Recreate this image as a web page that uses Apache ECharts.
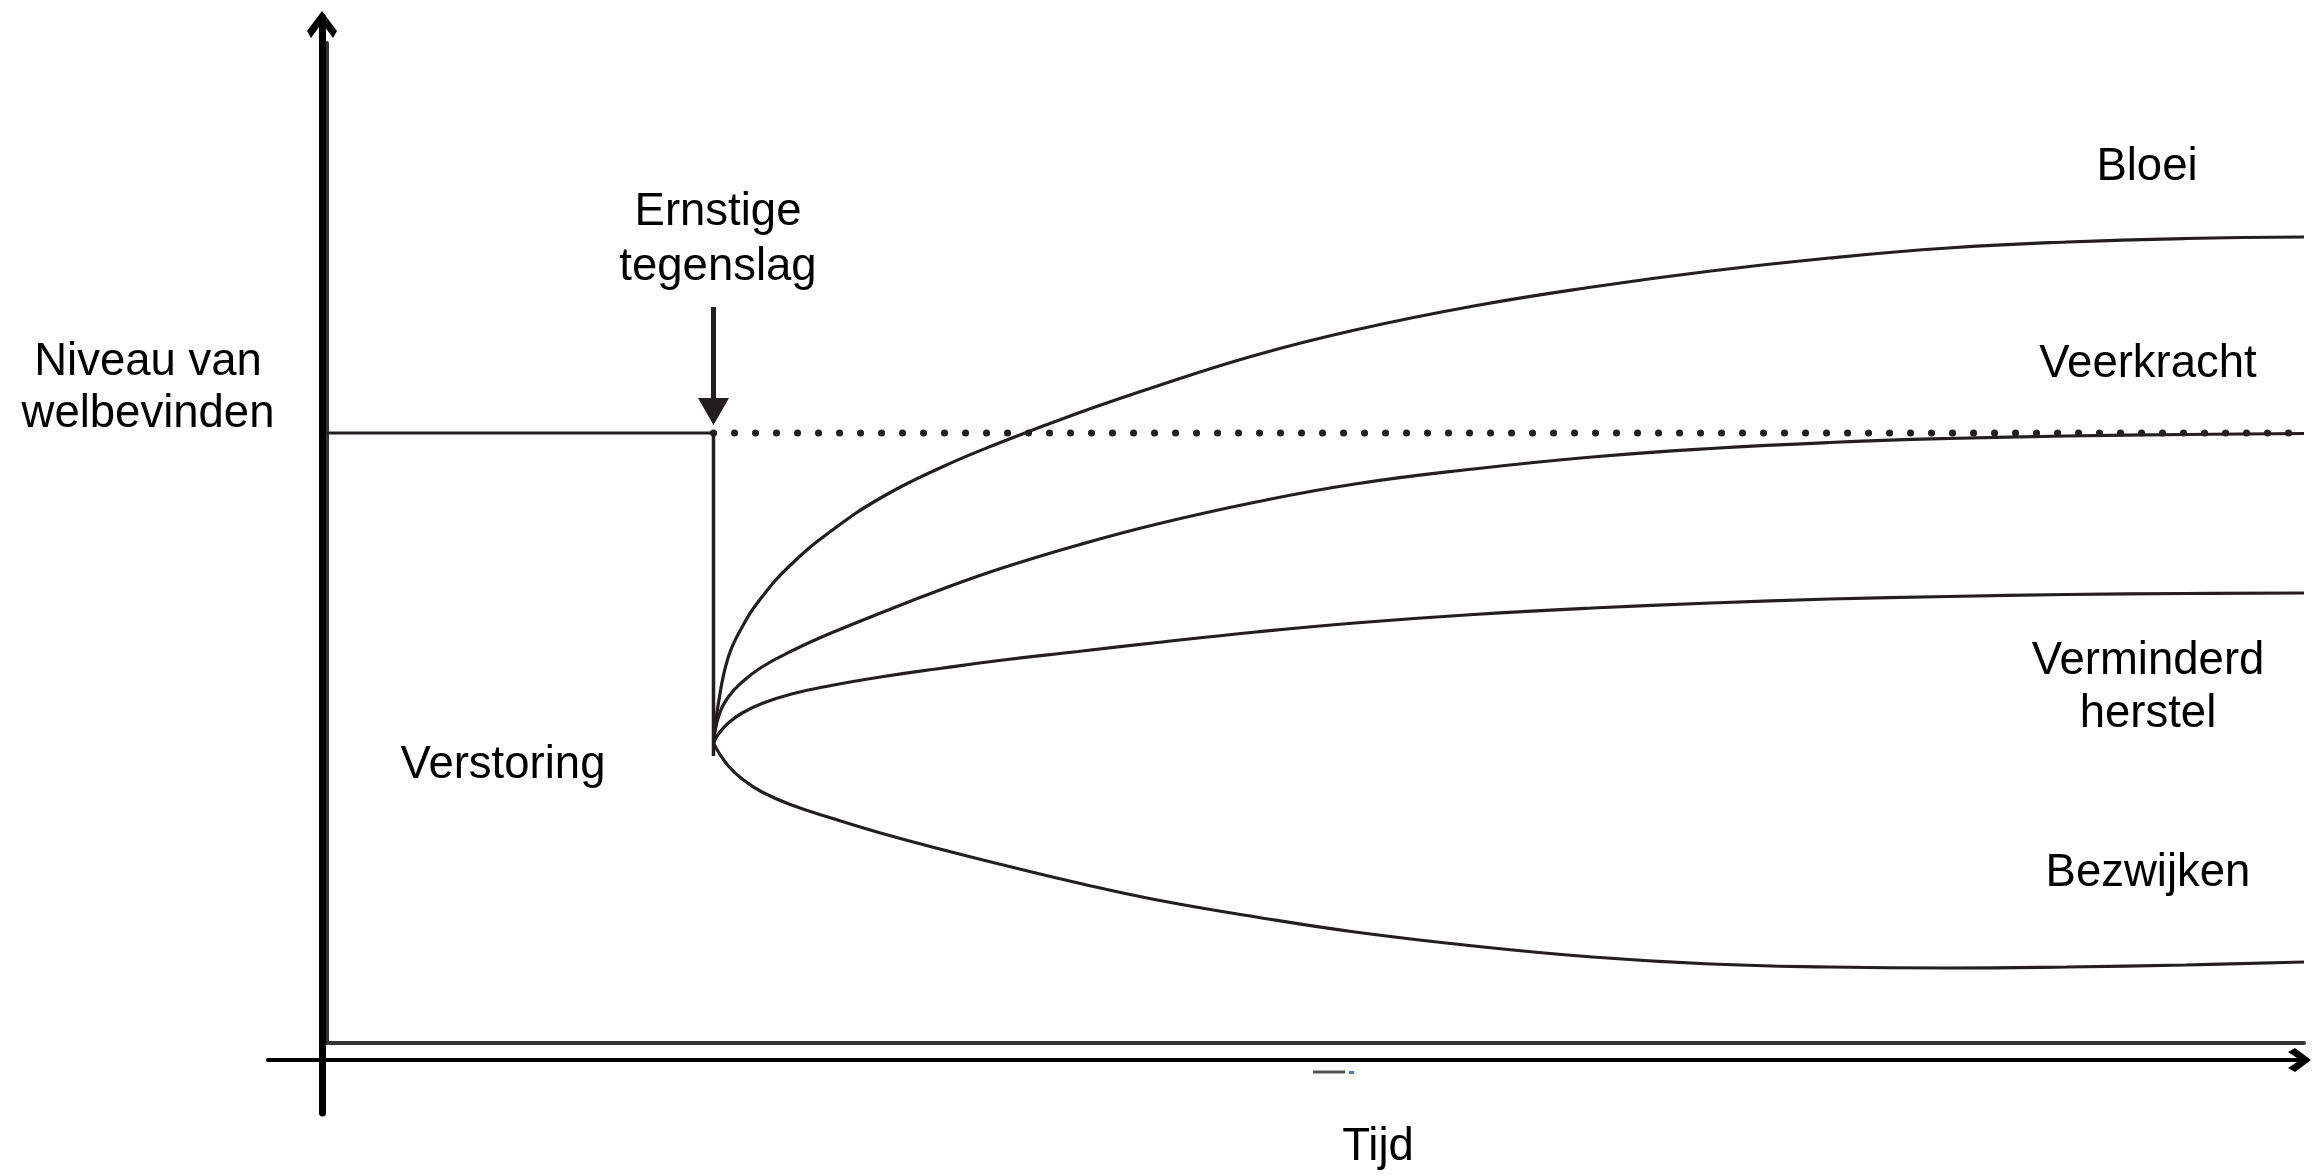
<!DOCTYPE html>
<html><head><meta charset="utf-8">
<script src="https://cdn.jsdelivr.net/npm/echarts@6/dist/echarts.min.js"></script>
<style>html,body{margin:0;padding:0;background:#fff}#c{width:2321px;height:1176px}</style>
</head><body><div id="c"></div>
<script>
// ---- data (time 0..100, well-being level 0..100) ----
const baseline = [[0, 61.0], [19.55, 61.0]];
const drop = [[19.55, 61.0], [19.55, 28.7]];
const dotted = [[19.55, 61.0], [100, 61.0]];
const arrowShaft = [[19.55, 73.6], [19.55, 64.2]];
const arrowHead = [[19.55, 63.15]];
const times = [19.55, 19.8, 20.3, 21, 22, 23.5, 25.5, 28, 31, 34, 38, 42, 47, 52, 58, 64, 70, 76, 82, 88, 94, 100];
const bloei = [30.0, 34.0, 38.6, 41.6, 44.6, 47.9, 51.2, 54.5, 57.5, 60.0, 63.0, 65.7, 68.8, 71.3, 73.7, 75.6, 77.2, 78.5, 79.5, 80.1, 80.45, 80.6];
const veerkracht = [30.0, 32.6, 34.6, 36.1, 37.6, 39.2, 41.0, 43.0, 45.3, 47.4, 49.8, 51.9, 54.1, 55.9, 57.4, 58.6, 59.45, 60.05, 60.45, 60.7, 60.85, 60.95];
const verminderd = [30.0, 30.9, 32.0, 33.0, 33.95, 34.9, 35.75, 36.6, 37.45, 38.25, 39.15, 40.05, 41.1, 42.0, 42.85, 43.5, 44.0, 44.4, 44.65, 44.85, 44.95, 45.0];
const bezwijken = [30.0, 29.1, 27.7, 26.4, 25.1, 23.8, 22.5, 21.0, 19.4, 17.9, 16.0, 14.3, 12.6, 11.1, 9.7, 8.6, 7.9, 7.6, 7.5, 7.6, 7.8, 8.1];
const labelsText = ['Ernstige', 'tegenslag', 'Niveau van', 'welbevinden', 'Bloei', 'Veerkracht', 'Verminderd', 'herstel', 'Bezwijken', 'Verstoring', 'Tijd'];

// ---- drawing ----
const ink = '#231f20';
const FONT = '"Liberation Sans", Arial, sans-serif';
const chevUp = 'path://M15,0L30,20L26,27L15,12L4,27L0,20Z';
const chevX = 'path://M12,0L24,16L20,23L12,11L4,23L0,16Z';
const labelPos = [[718,212],[718,267],[148,362],[148,414],[2147,167],[2148,364],[2148,661],[2148,714],[2148,873],[503,765],[1378,1147]];

const chart = echarts.init(document.getElementById('c'), null, {renderer: 'canvas'});
function curve(name, values) {
  return {name, type: 'line', xAxisIndex: 0, yAxisIndex: 0,
    data: values.map((v, i) => [times[i], v]), smooth: 0.45,
    symbol: 'none', silent: true, z: 3,
    lineStyle: {color: ink, width: 3.2}};
}
const hidden = {axisLabel: {show: false}, axisTick: {show: false}, splitLine: {show: false}};
chart.setOption({
  animation: false,
  backgroundColor: '#fff',
  grid: [
    {left: 327, right: 17, top: 43, bottom: 133},
    {left: 268, right: 15, top: 17, bottom: 63}
  ],
  xAxis: [
    Object.assign({type: 'value', gridIndex: 0, min: 0, max: 100,
      axisLine: {show: true, onZero: false, lineStyle: {color: '#333', width: 4}}}, hidden),
    Object.assign({type: 'value', gridIndex: 1, min: -54, max: 1984, z: 10,
      axisLine: {show: true, onZero: true, symbol: ['none', chevX], symbolSize: [24, 23], symbolOffset: [0, -6.5],
        lineStyle: {color: '#000', width: 4}}}, hidden)
  ],
  yAxis: [
    Object.assign({type: 'value', gridIndex: 0, min: 0, max: 100,
      axisLine: {show: true, onZero: false, lineStyle: {color: '#333', width: 4}}}, hidden),
    Object.assign({type: 'value', gridIndex: 1, min: -53, max: 1043, z: 10,
      axisLine: {show: true, onZero: true, symbol: ['none', chevUp], symbolSize: [30, 27], symbolOffset: [0, -7.5],
        lineStyle: {color: '#000', width: 7}}}, hidden)
  ],
  series: [
    {type: 'line', xAxisIndex: 1, yAxisIndex: 1, data: [], silent: true},
    {type: 'line', data: baseline, symbol: 'none', silent: true, z: 3, lineStyle: {color: ink, width: 3}},
    {type: 'line', data: drop, symbol: 'none', silent: true, z: 3, lineStyle: {color: ink, width: 3.5}},
    {type: 'line', data: dotted, symbol: 'none', silent: true, z: 4,
      lineStyle: {color: ink, width: 7, type: [0.1, 20.9], cap: 'round'}},
    {type: 'line', data: arrowShaft, symbol: 'none', silent: true, z: 4, lineStyle: {color: ink, width: 5}},
    {type: 'scatter', data: arrowHead, symbol: 'triangle', symbolRotate: 180, symbolSize: [31, 27],
      silent: true, z: 5, itemStyle: {color: ink, opacity: 1}},
    curve('Bloei', bloei),
    curve('Veerkracht', veerkracht),
    curve('Verminderd herstel', verminderd),
    curve('Bezwijken', bezwijken)
  ],
  graphic: labelsText.map((t, i) => ({
    type: 'text', silent: true, z: 20,
    style: {text: t, x: labelPos[i][0], y: labelPos[i][1], fill: '#000',
      fontSize: 45.5, fontFamily: FONT, textAlign: 'center', textVerticalAlign: 'middle', verticalAlign: 'middle'}
  })).concat([
    {type: 'line', silent: true, shape: {x1: 1313, y1: 1072, x2: 1345, y2: 1072}, style: {stroke: '#555', lineWidth: 3}},
    {type: 'rect', silent: true, shape: {x: 1349, y: 1071, width: 5, height: 3}, style: {fill: '#4a78b0'}}
  ])
});
</script></body></html>
